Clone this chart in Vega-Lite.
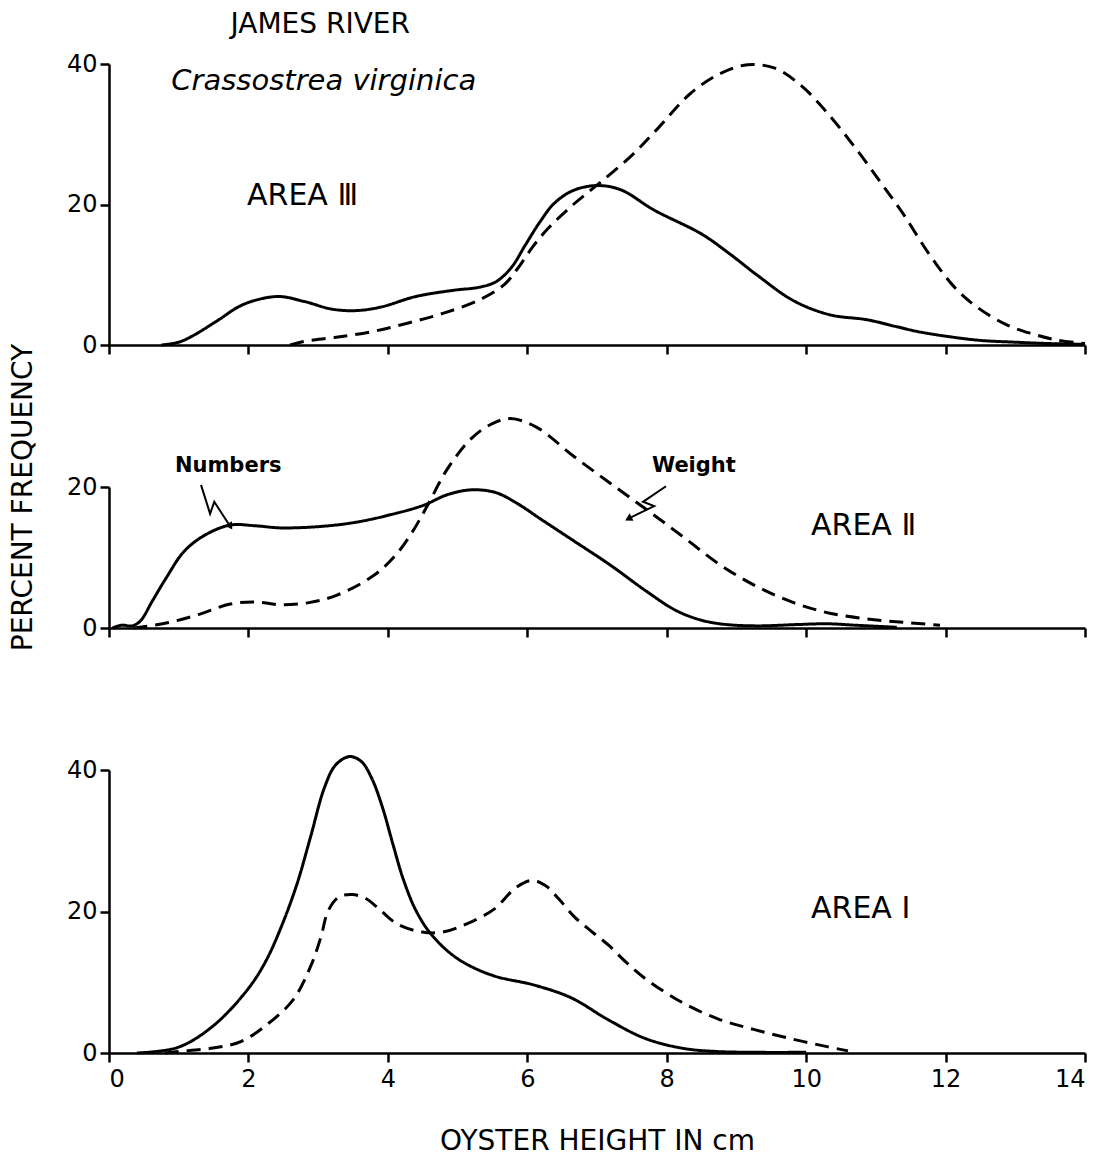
{
  "$schema": "https://vega.github.io/schema/vega-lite/v6.json",
  "background": "white",
  "padding": {"left": 8, "top": 11, "right": 5, "bottom": 5},
  "spacing": 142,
  "bounds": "flush",
  "config": {
    "view": {"stroke": null},
    "font": "DejaVu Sans",
    "axis": {
      "domainColor": "black", "domainWidth": 2.5,
      "tickColor": "black", "tickWidth": 2.5, "tickSize": 9,
      "labelFont": "DejaVu Sans", "labelFontSize": 24, "labelColor": "black",
      "grid": false,
      "titleFont": "DejaVu Sans", "titleFontSize": 27, "titleFontWeight": "normal", "titleColor": "black"
    }
  },
  "datasets": {
    "curves": [
      {"panel": "III", "series": "Numbers", "x": 0.75, "y": 0},
      {"panel": "III", "series": "Numbers", "x": 1.0, "y": 0.4},
      {"panel": "III", "series": "Numbers", "x": 1.2, "y": 1.3},
      {"panel": "III", "series": "Numbers", "x": 1.56, "y": 3.5},
      {"panel": "III", "series": "Numbers", "x": 1.87, "y": 5.5},
      {"panel": "III", "series": "Numbers", "x": 2.15, "y": 6.5},
      {"panel": "III", "series": "Numbers", "x": 2.45, "y": 6.9},
      {"panel": "III", "series": "Numbers", "x": 2.8, "y": 6.2},
      {"panel": "III", "series": "Numbers", "x": 3.2, "y": 5.1},
      {"panel": "III", "series": "Numbers", "x": 3.55, "y": 4.9},
      {"panel": "III", "series": "Numbers", "x": 3.9, "y": 5.4},
      {"panel": "III", "series": "Numbers", "x": 4.4, "y": 6.9},
      {"panel": "III", "series": "Numbers", "x": 4.95, "y": 7.8},
      {"panel": "III", "series": "Numbers", "x": 5.3, "y": 8.2},
      {"panel": "III", "series": "Numbers", "x": 5.55, "y": 9.0},
      {"panel": "III", "series": "Numbers", "x": 5.77, "y": 11.0},
      {"panel": "III", "series": "Numbers", "x": 5.97, "y": 14.2},
      {"panel": "III", "series": "Numbers", "x": 6.18, "y": 17.5},
      {"panel": "III", "series": "Numbers", "x": 6.39, "y": 20.2},
      {"panel": "III", "series": "Numbers", "x": 6.66, "y": 22.0},
      {"panel": "III", "series": "Numbers", "x": 7.0, "y": 22.7},
      {"panel": "III", "series": "Numbers", "x": 7.34, "y": 22.1},
      {"panel": "III", "series": "Numbers", "x": 7.82, "y": 19.2},
      {"panel": "III", "series": "Numbers", "x": 8.5, "y": 15.8},
      {"panel": "III", "series": "Numbers", "x": 8.9, "y": 13.0},
      {"panel": "III", "series": "Numbers", "x": 9.29, "y": 10.0},
      {"panel": "III", "series": "Numbers", "x": 9.82, "y": 6.3},
      {"panel": "III", "series": "Numbers", "x": 10.34, "y": 4.3},
      {"panel": "III", "series": "Numbers", "x": 10.87, "y": 3.6},
      {"panel": "III", "series": "Numbers", "x": 11.3, "y": 2.6},
      {"panel": "III", "series": "Numbers", "x": 11.66, "y": 1.8},
      {"panel": "III", "series": "Numbers", "x": 12.45, "y": 0.7},
      {"panel": "III", "series": "Numbers", "x": 13.0, "y": 0.4},
      {"panel": "III", "series": "Numbers", "x": 13.5, "y": 0.2},
      {"panel": "III", "series": "Numbers", "x": 14.0, "y": 0.1},

      {"panel": "III", "series": "Weight", "x": 2.6, "y": 0},
      {"panel": "III", "series": "Weight", "x": 2.79, "y": 0.5},
      {"panel": "III", "series": "Weight", "x": 3.26, "y": 1.1},
      {"panel": "III", "series": "Weight", "x": 3.77, "y": 1.9},
      {"panel": "III", "series": "Weight", "x": 4.28, "y": 3.1},
      {"panel": "III", "series": "Weight", "x": 4.79, "y": 4.5},
      {"panel": "III", "series": "Weight", "x": 5.31, "y": 6.4},
      {"panel": "III", "series": "Weight", "x": 5.67, "y": 8.6},
      {"panel": "III", "series": "Weight", "x": 5.87, "y": 11.0},
      {"panel": "III", "series": "Weight", "x": 6.08, "y": 14.0},
      {"panel": "III", "series": "Weight", "x": 6.29, "y": 16.5},
      {"panel": "III", "series": "Weight", "x": 6.66, "y": 20.0},
      {"panel": "III", "series": "Weight", "x": 7.03, "y": 23.0},
      {"panel": "III", "series": "Weight", "x": 7.5, "y": 27.0},
      {"panel": "III", "series": "Weight", "x": 7.87, "y": 30.8},
      {"panel": "III", "series": "Weight", "x": 8.34, "y": 35.8},
      {"panel": "III", "series": "Weight", "x": 8.76, "y": 38.6},
      {"panel": "III", "series": "Weight", "x": 9.16, "y": 39.9},
      {"panel": "III", "series": "Weight", "x": 9.55, "y": 39.4},
      {"panel": "III", "series": "Weight", "x": 9.92, "y": 37.0},
      {"panel": "III", "series": "Weight", "x": 10.29, "y": 33.2},
      {"panel": "III", "series": "Weight", "x": 10.71, "y": 28.0},
      {"panel": "III", "series": "Weight", "x": 11.08, "y": 23.0},
      {"panel": "III", "series": "Weight", "x": 11.39, "y": 18.7},
      {"panel": "III", "series": "Weight", "x": 11.76, "y": 13.0},
      {"panel": "III", "series": "Weight", "x": 12.13, "y": 8.2},
      {"panel": "III", "series": "Weight", "x": 12.45, "y": 5.4},
      {"panel": "III", "series": "Weight", "x": 12.87, "y": 2.9},
      {"panel": "III", "series": "Weight", "x": 13.24, "y": 1.6},
      {"panel": "III", "series": "Weight", "x": 13.6, "y": 0.7},
      {"panel": "III", "series": "Weight", "x": 14.0, "y": 0.2},

      {"panel": "II", "series": "Numbers", "x": 0.05, "y": 0},
      {"panel": "II", "series": "Numbers", "x": 0.18, "y": 0.4},
      {"panel": "II", "series": "Numbers", "x": 0.33, "y": 0.3},
      {"panel": "II", "series": "Numbers", "x": 0.45, "y": 1.0},
      {"panel": "II", "series": "Numbers", "x": 0.62, "y": 3.8},
      {"panel": "II", "series": "Numbers", "x": 0.82, "y": 7.1},
      {"panel": "II", "series": "Numbers", "x": 1.08, "y": 10.9},
      {"panel": "II", "series": "Numbers", "x": 1.38, "y": 13.2},
      {"panel": "II", "series": "Numbers", "x": 1.74, "y": 14.6},
      {"panel": "II", "series": "Numbers", "x": 2.1, "y": 14.5},
      {"panel": "II", "series": "Numbers", "x": 2.46, "y": 14.2},
      {"panel": "II", "series": "Numbers", "x": 3.03, "y": 14.4},
      {"panel": "II", "series": "Numbers", "x": 3.54, "y": 15.0},
      {"panel": "II", "series": "Numbers", "x": 4.05, "y": 16.1},
      {"panel": "II", "series": "Numbers", "x": 4.51, "y": 17.4},
      {"panel": "II", "series": "Numbers", "x": 4.85, "y": 18.9},
      {"panel": "II", "series": "Numbers", "x": 5.2, "y": 19.6},
      {"panel": "II", "series": "Numbers", "x": 5.55, "y": 19.2},
      {"panel": "II", "series": "Numbers", "x": 5.85, "y": 17.7},
      {"panel": "II", "series": "Numbers", "x": 6.2, "y": 15.4},
      {"panel": "II", "series": "Numbers", "x": 6.66, "y": 12.4},
      {"panel": "II", "series": "Numbers", "x": 7.18, "y": 9.0},
      {"panel": "II", "series": "Numbers", "x": 7.71, "y": 5.2},
      {"panel": "II", "series": "Numbers", "x": 8.13, "y": 2.5},
      {"panel": "II", "series": "Numbers", "x": 8.5, "y": 1.1},
      {"panel": "II", "series": "Numbers", "x": 8.85, "y": 0.5},
      {"panel": "II", "series": "Numbers", "x": 9.3, "y": 0.3},
      {"panel": "II", "series": "Numbers", "x": 9.9, "y": 0.5},
      {"panel": "II", "series": "Numbers", "x": 10.3, "y": 0.6},
      {"panel": "II", "series": "Numbers", "x": 10.7, "y": 0.4},
      {"panel": "II", "series": "Numbers", "x": 11.3, "y": 0.1},

      {"panel": "II", "series": "Weight", "x": 0.35, "y": 0},
      {"panel": "II", "series": "Weight", "x": 0.82, "y": 0.7},
      {"panel": "II", "series": "Weight", "x": 1.28, "y": 1.9},
      {"panel": "II", "series": "Weight", "x": 1.74, "y": 3.4},
      {"panel": "II", "series": "Weight", "x": 2.1, "y": 3.7},
      {"panel": "II", "series": "Weight", "x": 2.46, "y": 3.3},
      {"panel": "II", "series": "Weight", "x": 2.87, "y": 3.6},
      {"panel": "II", "series": "Weight", "x": 3.28, "y": 4.7},
      {"panel": "II", "series": "Weight", "x": 3.79, "y": 7.4},
      {"panel": "II", "series": "Weight", "x": 4.1, "y": 10.2},
      {"panel": "II", "series": "Weight", "x": 4.35, "y": 13.6},
      {"panel": "II", "series": "Weight", "x": 4.58, "y": 17.6},
      {"panel": "II", "series": "Weight", "x": 4.85, "y": 22.5},
      {"panel": "II", "series": "Weight", "x": 5.2, "y": 26.9},
      {"panel": "II", "series": "Weight", "x": 5.5, "y": 29.0},
      {"panel": "II", "series": "Weight", "x": 5.76, "y": 29.7},
      {"panel": "II", "series": "Weight", "x": 6.13, "y": 28.5},
      {"panel": "II", "series": "Weight", "x": 6.66, "y": 24.4},
      {"panel": "II", "series": "Weight", "x": 7.18, "y": 20.6},
      {"panel": "II", "series": "Weight", "x": 7.71, "y": 16.8},
      {"panel": "II", "series": "Weight", "x": 8.24, "y": 12.9},
      {"panel": "II", "series": "Weight", "x": 8.76, "y": 9.0},
      {"panel": "II", "series": "Weight", "x": 9.29, "y": 5.9},
      {"panel": "II", "series": "Weight", "x": 9.82, "y": 3.6},
      {"panel": "II", "series": "Weight", "x": 10.34, "y": 2.1},
      {"panel": "II", "series": "Weight", "x": 10.87, "y": 1.3},
      {"panel": "II", "series": "Weight", "x": 11.39, "y": 0.8},
      {"panel": "II", "series": "Weight", "x": 11.92, "y": 0.4},

      {"panel": "I", "series": "Numbers", "x": 0.4, "y": 0},
      {"panel": "I", "series": "Numbers", "x": 0.99, "y": 0.8},
      {"panel": "I", "series": "Numbers", "x": 1.49, "y": 3.8},
      {"panel": "I", "series": "Numbers", "x": 1.99, "y": 9.0},
      {"panel": "I", "series": "Numbers", "x": 2.25, "y": 13.0},
      {"panel": "I", "series": "Numbers", "x": 2.49, "y": 18.3},
      {"panel": "I", "series": "Numbers", "x": 2.7, "y": 24.0},
      {"panel": "I", "series": "Numbers", "x": 2.89, "y": 30.5},
      {"panel": "I", "series": "Numbers", "x": 3.09, "y": 37.5},
      {"panel": "I", "series": "Numbers", "x": 3.25, "y": 40.7},
      {"panel": "I", "series": "Numbers", "x": 3.45, "y": 41.9},
      {"panel": "I", "series": "Numbers", "x": 3.62, "y": 41.2},
      {"panel": "I", "series": "Numbers", "x": 3.77, "y": 38.8},
      {"panel": "I", "series": "Numbers", "x": 3.92, "y": 34.8},
      {"panel": "I", "series": "Numbers", "x": 4.07, "y": 29.6},
      {"panel": "I", "series": "Numbers", "x": 4.22, "y": 24.6},
      {"panel": "I", "series": "Numbers", "x": 4.4, "y": 20.2},
      {"panel": "I", "series": "Numbers", "x": 4.62, "y": 16.8},
      {"panel": "I", "series": "Numbers", "x": 4.99, "y": 13.4},
      {"panel": "I", "series": "Numbers", "x": 5.49, "y": 11.0},
      {"panel": "I", "series": "Numbers", "x": 6.1, "y": 9.6},
      {"panel": "I", "series": "Numbers", "x": 6.63, "y": 7.8},
      {"panel": "I", "series": "Numbers", "x": 7.16, "y": 4.7},
      {"panel": "I", "series": "Numbers", "x": 7.68, "y": 2.1},
      {"panel": "I", "series": "Numbers", "x": 8.21, "y": 0.7},
      {"panel": "I", "series": "Numbers", "x": 8.74, "y": 0.2},
      {"panel": "I", "series": "Numbers", "x": 10.0, "y": 0.1},

      {"panel": "I", "series": "Weight", "x": 0.8, "y": 0},
      {"panel": "I", "series": "Weight", "x": 0.99, "y": 0.2},
      {"panel": "I", "series": "Weight", "x": 1.49, "y": 0.7},
      {"panel": "I", "series": "Weight", "x": 1.89, "y": 1.6},
      {"panel": "I", "series": "Weight", "x": 2.29, "y": 4.2},
      {"panel": "I", "series": "Weight", "x": 2.64, "y": 7.5},
      {"panel": "I", "series": "Weight", "x": 2.89, "y": 12.2},
      {"panel": "I", "series": "Weight", "x": 3.04, "y": 16.4},
      {"panel": "I", "series": "Weight", "x": 3.14, "y": 20.0},
      {"panel": "I", "series": "Weight", "x": 3.29, "y": 22.0},
      {"panel": "I", "series": "Weight", "x": 3.49, "y": 22.4},
      {"panel": "I", "series": "Weight", "x": 3.69, "y": 21.8},
      {"panel": "I", "series": "Weight", "x": 3.89, "y": 20.2},
      {"panel": "I", "series": "Weight", "x": 4.14, "y": 18.2},
      {"panel": "I", "series": "Weight", "x": 4.49, "y": 17.1},
      {"panel": "I", "series": "Weight", "x": 4.79, "y": 17.1},
      {"panel": "I", "series": "Weight", "x": 5.14, "y": 18.3},
      {"panel": "I", "series": "Weight", "x": 5.52, "y": 20.3},
      {"panel": "I", "series": "Weight", "x": 5.84, "y": 23.4},
      {"panel": "I", "series": "Weight", "x": 6.07, "y": 24.4},
      {"panel": "I", "series": "Weight", "x": 6.27, "y": 23.6},
      {"panel": "I", "series": "Weight", "x": 6.45, "y": 21.8},
      {"panel": "I", "series": "Weight", "x": 6.68, "y": 19.2},
      {"panel": "I", "series": "Weight", "x": 6.92, "y": 17.2},
      {"panel": "I", "series": "Weight", "x": 7.17, "y": 15.2},
      {"panel": "I", "series": "Weight", "x": 7.42, "y": 12.8},
      {"panel": "I", "series": "Weight", "x": 7.68, "y": 10.6},
      {"panel": "I", "series": "Weight", "x": 8.21, "y": 7.2},
      {"panel": "I", "series": "Weight", "x": 8.74, "y": 4.8},
      {"panel": "I", "series": "Weight", "x": 9.26, "y": 3.3},
      {"panel": "I", "series": "Weight", "x": 9.79, "y": 2.0},
      {"panel": "I", "series": "Weight", "x": 10.3, "y": 0.9},
      {"panel": "I", "series": "Weight", "x": 10.6, "y": 0.3}
    ],
    "arrows": [
      {"arrow": "Numbers", "o": 1, "x": 1.32, "y": 20.3},
      {"arrow": "Numbers", "o": 2, "x": 1.45, "y": 16.2},
      {"arrow": "Numbers", "o": 3, "x": 1.51, "y": 17.9},
      {"arrow": "Numbers", "o": 4, "x": 1.74, "y": 14.4},
      {"arrow": "Weight", "o": 1, "x": 7.99, "y": 20.1},
      {"arrow": "Weight", "o": 2, "x": 7.66, "y": 17.9},
      {"arrow": "Weight", "o": 3, "x": 7.82, "y": 17.3},
      {"arrow": "Weight", "o": 4, "x": 7.45, "y": 15.5}
    ]
  },
  "vconcat": [
    {
      "width": 976,
      "height": 281,
      "encoding": {
        "x": {"field": "x", "type": "quantitative", "scale": {"domain": [0, 14], "nice": false}, "axis": {"values": [0, 2, 4, 6, 8, 10, 12, 14], "labels": false, "title": null}},
        "y": {"field": "y", "type": "quantitative", "scale": {"domain": [0, 40], "nice": false}, "axis": {"values": [0, 20, 40], "labelPadding": 3, "title": null}}
      },
      "layer": [
        {
          "data": {"name": "curves"},
          "transform": [{"filter": "datum.panel === 'III'"}],
          "mark": {"type": "line", "interpolate": "catmull-rom", "strokeWidth": 3, "color": "black", "strokeCap": "butt"},
          "encoding": {
            "detail": {"field": "series"},
            "strokeDash": {"field": "series", "type": "nominal", "scale": {"domain": ["Numbers", "Weight"], "range": [[1, 0], [14, 8]]}, "legend": null}
          }
        },
        {
          "data": {"values": [{"x": 3.03, "y": 44.4, "label": "JAMES RIVER"}]},
          "mark": {"type": "text", "fontSize": 28, "font": "DejaVu Sans", "align": "center", "baseline": "alphabetic", "color": "black"},
          "encoding": {"text": {"field": "label"}}
        },
        {
          "data": {"values": [{"x": 3.08, "y": 36.3, "label": "Crassostrea virginica"}]},
          "mark": {"type": "text", "fontSize": 29, "font": "DejaVu Sans", "fontStyle": "italic", "align": "center", "baseline": "alphabetic", "color": "black"},
          "encoding": {"text": {"field": "label"}}
        },
        {
          "data": {"values": [{"x": 1.98, "y": 19.9, "label": "AREA Ⅲ"}]},
          "mark": {"type": "text", "fontSize": 30, "font": "DejaVu Sans", "align": "left", "baseline": "alphabetic", "color": "black"},
          "encoding": {"text": {"field": "label"}}
        }
      ]
    },
    {
      "width": 976,
      "height": 141,
      "encoding": {
        "x": {"field": "x", "type": "quantitative", "scale": {"domain": [0, 14], "nice": false}, "axis": {"values": [0, 2, 4, 6, 8, 10, 12, 14], "labels": false, "title": null}},
        "y": {"field": "y", "type": "quantitative", "scale": {"domain": [0, 20], "nice": false}, "axis": {"values": [0, 20], "labelPadding": 3, "title": "PERCENT FREQUENCY", "titleX": -78, "titleY": 10, "titleAngle": 270, "titleAlign": "center", "titleBaseline": "alphabetic", "titleFontSize": 28}}
      },
      "layer": [
        {
          "data": {"name": "curves"},
          "transform": [{"filter": "datum.panel === 'II'"}],
          "mark": {"type": "line", "interpolate": "catmull-rom", "strokeWidth": 3, "color": "black", "strokeCap": "butt"},
          "encoding": {
            "detail": {"field": "series"},
            "strokeDash": {"field": "series", "type": "nominal", "scale": {"domain": ["Numbers", "Weight"], "range": [[1, 0], [14, 8]]}, "legend": null}
          }
        },
        {
          "data": {"name": "arrows"},
          "mark": {"type": "line", "strokeWidth": 2, "color": "black"},
          "encoding": {"detail": {"field": "arrow"}, "order": {"field": "o", "type": "quantitative"}}
        },
        {
          "data": {"values": [{"x": 1.74, "y": 14.4}]},
          "mark": {"type": "point", "shape": "triangle-up", "angle": 148, "filled": true, "size": 70, "color": "black", "opacity": 1}
        },
        {
          "data": {"values": [{"x": 7.45, "y": 15.5}]},
          "mark": {"type": "point", "shape": "triangle-up", "angle": 242, "filled": true, "size": 70, "color": "black", "opacity": 1}
        },
        {
          "data": {"values": [{"x": 1.71, "y": 22.1, "label": "Numbers"}, {"x": 8.39, "y": 22.1, "label": "Weight"}]},
          "mark": {"type": "text", "fontSize": 21, "font": "DejaVu Sans", "fontWeight": "bold", "align": "center", "baseline": "alphabetic", "color": "black"},
          "encoding": {"text": {"field": "label"}}
        },
        {
          "data": {"values": [{"x": 10.07, "y": 13.2, "label": "AREA Ⅱ"}]},
          "mark": {"type": "text", "fontSize": 30, "font": "DejaVu Sans", "align": "left", "baseline": "alphabetic", "color": "black"},
          "encoding": {"text": {"field": "label"}}
        }
      ]
    },
    {
      "width": 976,
      "height": 283,
      "encoding": {
        "x": {"field": "x", "type": "quantitative", "scale": {"domain": [0, 14], "nice": false}, "axis": {"values": [0, 2, 4, 6, 8, 10, 12, 14], "labelPadding": 5, "title": "OYSTER HEIGHT IN cm", "titleY": 96, "titleBaseline": "alphabetic", "titleFontSize": 28}},
        "y": {"field": "y", "type": "quantitative", "scale": {"domain": [0, 40], "nice": false}, "axis": {"values": [0, 20, 40], "labelPadding": 3, "title": null}}
      },
      "layer": [
        {
          "data": {"name": "curves"},
          "transform": [{"filter": "datum.panel === 'I'"}],
          "mark": {"type": "line", "interpolate": "catmull-rom", "strokeWidth": 3, "color": "black", "strokeCap": "butt"},
          "encoding": {
            "detail": {"field": "series"},
            "strokeDash": {"field": "series", "type": "nominal", "scale": {"domain": ["Numbers", "Weight"], "range": [[1, 0], [14, 8]]}, "legend": null}
          }
        },
        {
          "data": {"values": [{"x": 10.07, "y": 19.1, "label": "AREA Ⅰ"}]},
          "mark": {"type": "text", "fontSize": 30, "font": "DejaVu Sans", "align": "left", "baseline": "alphabetic", "color": "black"},
          "encoding": {"text": {"field": "label"}}
        }
      ]
    }
  ]
}
